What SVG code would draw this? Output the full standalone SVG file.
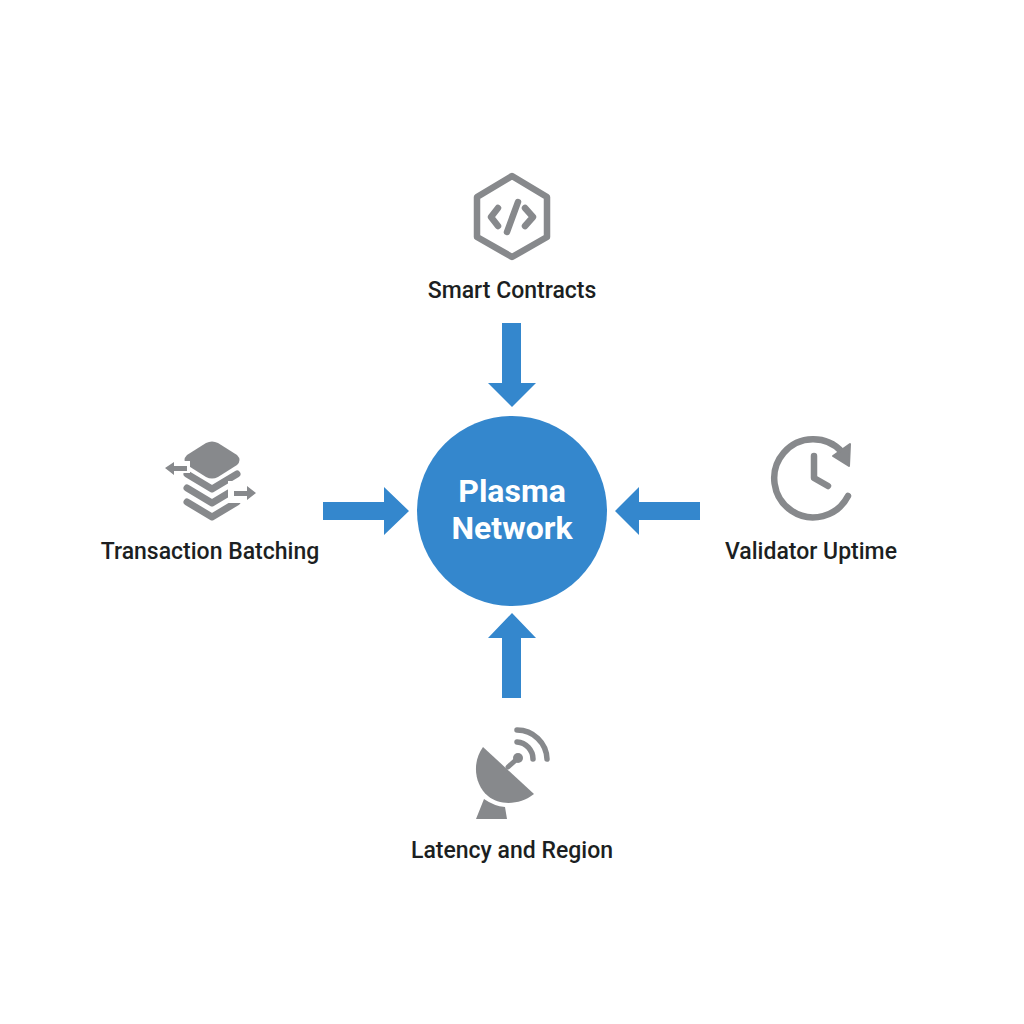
<svg xmlns="http://www.w3.org/2000/svg" width="1024" height="1024" viewBox="0 0 1024 1024">
<style>
.lbl{font-family:Roboto,"Liberation Sans",sans-serif;font-size:23px;font-weight:500;fill:#1c1f22;text-anchor:middle}
.hub{font-family:Roboto,"Liberation Sans",sans-serif;font-size:32px;font-weight:700;fill:#fff;text-anchor:middle}
.ln{fill:none;stroke:#87898c;stroke-width:6.500;stroke-linecap:round;stroke-linejoin:round}
.fl{fill:#87898c}
.ar{fill:#3487cd}
</style>
<rect width="1024" height="1024" fill="#fff"/>
<g id="connectors">
<path class="ar" d="M502,323H521V383H536L512,407L488,383H502Z"/>
<path class="ar" d="M323,502V520H384V535L409,511L384,487V502Z"/>
<path class="ar" d="M700,502V520H639V535L615,511L639,487V502Z"/>
<path class="ar" d="M502,698H521V638H536L512,613L488,638H502Z"/>
</g>
<g id="hub-plasma-network">
<circle cx="512" cy="511" r="95" fill="#3487cd"/>
<text class="hub" x="512" y="502">Plasma</text>
<text class="hub" x="512" y="539">Network</text>
</g>
<g id="node-smart-contracts">
<path class="ln" d="M512,176L547,197V237L512,257L477,237V197Z"/>
<path class="ln" d="M498,208L491,217L498,226M525,208L533,217L525,226M518,202L507,232"/>
<text class="lbl" x="512" y="298">Smart Contracts</text>
</g>
<g id="node-transaction-batching">
<path class="fl" d="M206,443Q212,440 218,443L237,455Q242,460 237,465L218,477Q212,480 206,477L187,465Q182,460 187,455Z"/>
<path class="ln" style="stroke-width:7" d="M187,474L212,489L237,474M187,488L212,503L237,488M187,502L212,517L237,502"/>
<path d="M228,481H243V503H228Z" fill="#fff"/>
<path d="M176,461H190V473H176Z" fill="#fff"/>
<path class="fl" d="M165,468L174,462V466H187V471H174V475Z"/>
<path class="fl" d="M256,493L247,486V491H234V496H247V500Z"/>
<text class="lbl" x="210" y="559">Transaction Batching</text>
</g>
<g id="node-validator-uptime">
<path class="ln" d="M848,496A39,39 0 1 1 842,452"/>
<path class="fl" stroke="#87898c" stroke-width="2" stroke-linejoin="round" d="M850,444L849,466L833,456Z"/>
<path class="ln" d="M814,456V478L828,486"/>
<text class="lbl" x="811" y="559">Validator Uptime</text>
</g>
<g id="node-latency-and-region">
<path class="fl" d="M483,747L534,794C520,805 500,806 488,796C474,784 472,762 483,747Z"/>
<path class="fl" d="M484,799Q494,806 505,807L507,819H476Z"/>
<path class="ln" style="stroke-width:5" d="M508,767L518,758"/>
<circle class="fl" cx="518" cy="758" r="5"/>
<path class="ln" style="stroke-width:5.500" d="M517,742A17,17 0 0 1 533,759M517,730A30,30 0 0 1 547,759"/>
<text class="lbl" x="512" y="858">Latency and Region</text>
</g>
</svg>
